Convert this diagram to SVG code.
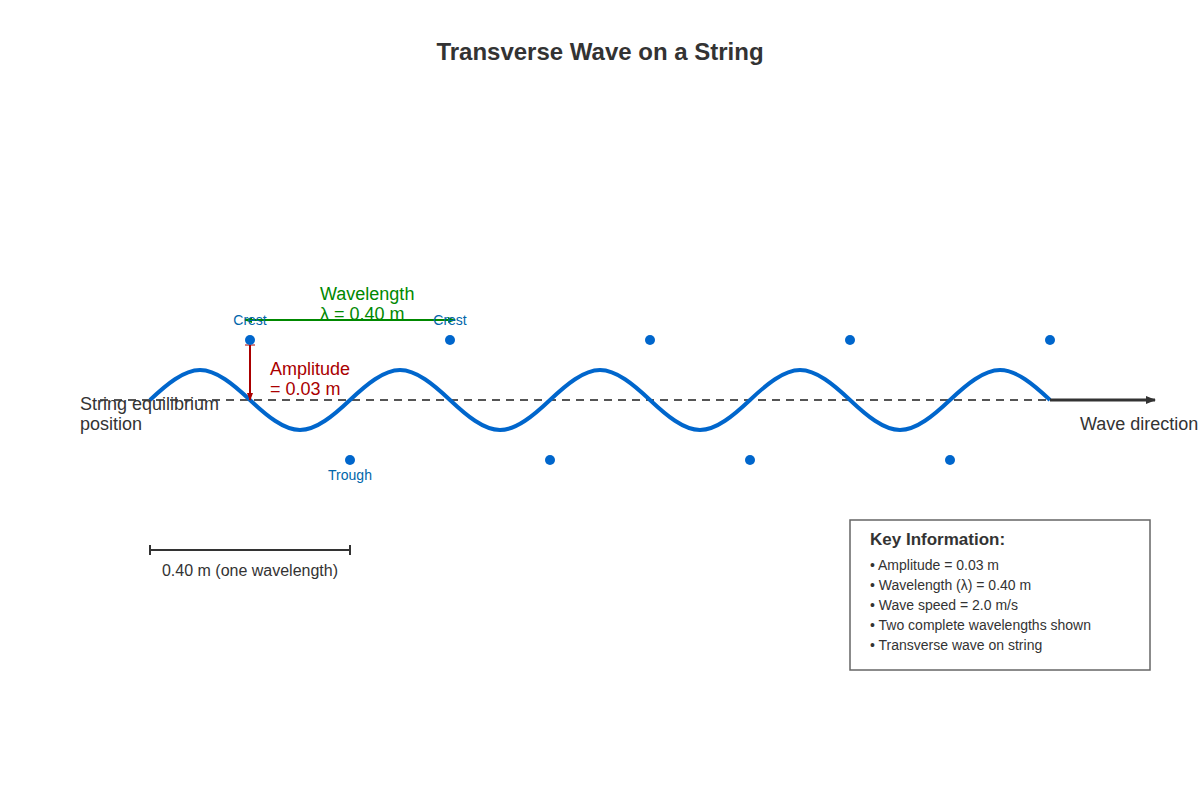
<svg xmlns="http://www.w3.org/2000/svg" width="1200" height="800" viewBox="0 0 1200 800">
<style>
text{font-family:"Liberation Sans",Arial,sans-serif}
.dot{fill:#0066cc}
.lbl{font-size:14px;fill:#0066aa;text-anchor:middle}
.k{font-size:14px;fill:#333}
</style>
<defs>
<marker id="ah" markerWidth="10" markerHeight="8" refX="9" refY="4" orient="auto" markerUnits="userSpaceOnUse"><path d="M0,0L10,4L0,8z" fill="#333"/></marker>
<marker id="ar" markerWidth="8" markerHeight="6" refX="7" refY="3" orient="auto" markerUnits="userSpaceOnUse"><path d="M0,0L8,3L0,6z" fill="#aa0000"/></marker>
<marker id="ag" markerWidth="8" markerHeight="6" refX="7" refY="3" orient="auto-start-reverse" markerUnits="userSpaceOnUse"><path d="M0,0L8,3L0,6z" fill="#008800"/></marker>
</defs>
<rect width="1200" height="800" fill="#fff"/>
<text x="600" y="60" text-anchor="middle" font-size="24" font-weight="bold" fill="#333">Transverse Wave on a String</text>
<g id="connectors">
<line x1="100" y1="400" x2="1050" y2="400" stroke="#555" stroke-width="2" stroke-dasharray="8,6"/>
<path id="wave" d="M150,400 C166.3,384.6 183.7,370 200,370 S233.7,384.6 250,400 S283.7,430 300,430 S333.7,415.4 350,400 S383.7,370 400,370 S433.7,384.6 450,400 S483.7,430 500,430 S533.7,415.4 550,400 S583.7,370 600,370 S633.7,384.6 650,400 S683.7,430 700,430 S733.7,415.4 750,400 S783.7,370 800,370 S833.7,384.6 850,400 S883.7,430 900,430 S933.7,415.4 950,400 S983.7,370 1000,370 S1033.7,384.6 1050,400" fill="none" stroke="#0066cc" stroke-width="4"/>
<line x1="1050" y1="400" x2="1155" y2="400" stroke="#333" stroke-width="3" marker-end="url(#ah)"/>
<line x1="250" y1="345" x2="250" y2="400" stroke="#aa0000" stroke-width="2" marker-end="url(#ar)"/>
<line x1="245" y1="345" x2="255" y2="345" stroke="#aa0000" stroke-width="1"/>
<line x1="245" y1="320" x2="455" y2="320" stroke="#008800" stroke-width="2" marker-start="url(#ag)" marker-end="url(#ag)"/>
</g>
<g id="points">
<circle class="dot" cx="250" cy="340" r="5"/><circle class="dot" cx="450" cy="340" r="5"/><circle class="dot" cx="650" cy="340" r="5"/><circle class="dot" cx="850" cy="340" r="5"/><circle class="dot" cx="1050" cy="340" r="5"/>
<circle class="dot" cx="350" cy="460" r="5"/><circle class="dot" cx="550" cy="460" r="5"/><circle class="dot" cx="750" cy="460" r="5"/><circle class="dot" cx="950" cy="460" r="5"/>
<text class="lbl" x="250" y="325">Crest</text><text class="lbl" x="450" y="325">Crest</text><text class="lbl" x="350" y="480">Trough</text>
</g>
<g id="labels">
<text x="320" y="300" font-size="18" fill="#008800">Wavelength</text>
<text x="320" y="320" font-size="18" fill="#008800">λ = 0.40 m</text>
<text x="270" y="375" font-size="18" fill="#aa0000">Amplitude</text>
<text x="270" y="395" font-size="18" fill="#aa0000">= 0.03 m</text>
<text x="80" y="410" font-size="18" fill="#333">String equilibrium</text>
<text x="80" y="430" font-size="18" fill="#333">position</text>
<text x="1080" y="430" font-size="18" fill="#333">Wave direction</text>
</g>
<g id="scale">
<line x1="150" y1="550" x2="350" y2="550" stroke="#333" stroke-width="2"/>
<line x1="150" y1="545" x2="150" y2="555" stroke="#333" stroke-width="2"/>
<line x1="350" y1="545" x2="350" y2="555" stroke="#333" stroke-width="2"/>
<text x="250" y="576" text-anchor="middle" font-size="16" fill="#333">0.40 m (one wavelength)</text>
</g>
<g id="key">
<rect x="850" y="520" width="300" height="150" fill="#fff" stroke="#666" stroke-width="1.5"/>
<text x="870" y="545" font-size="17" font-weight="bold" fill="#333">Key Information:</text>
<text class="k" x="870" y="570">• Amplitude = 0.03 m</text>
<text class="k" x="870" y="590">• Wavelength (λ) = 0.40 m</text>
<text class="k" x="870" y="610">• Wave speed = 2.0 m/s</text>
<text class="k" x="870" y="630">• Two complete wavelengths shown</text>
<text class="k" x="870" y="650">• Transverse wave on string</text>
</g>
</svg>
